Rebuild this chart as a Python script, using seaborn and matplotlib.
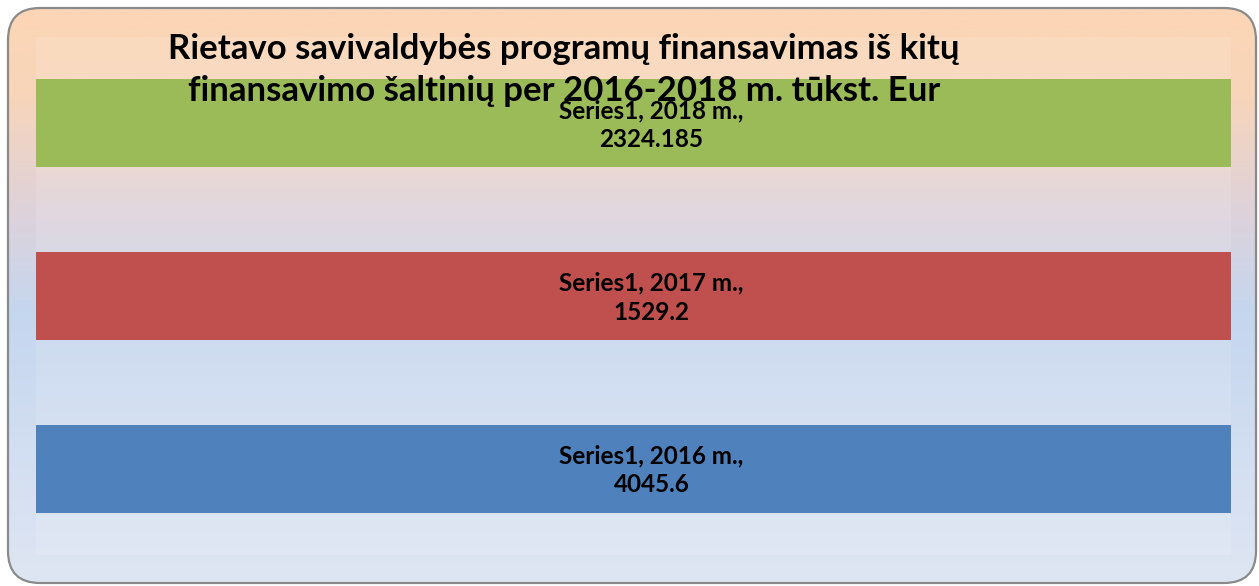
import numpy as np
import pandas as pd
import matplotlib
matplotlib.use("Agg")
import matplotlib.pyplot as plt
from matplotlib.patches import FancyBboxPatch
import seaborn as sns

# data
years = ["2018 m.", "2017 m.", "2016 m."]
values = [2324.185, 1529.2, 4045.6]
bar_colors = ["#9BBB59", "#C0504D", "#4F81BD"]
series_name = "Series1"
title = "Rietavo savivaldybės programų finansavimas iš kitų\nfinansavimo šaltinių per 2016-2018 m. tūkst. Eur"

df = pd.DataFrame({"year": years, "value": values})
# 100% stacked with one series -> every bar is the full share
df["share"] = df["value"] / df["value"] * 100

sns.set_theme(style="white")
plt.rcParams["font.family"] = ["Lato", "DejaVu Sans"]

W, H = 1259, 586
fig = plt.figure(figsize=(W / 100, H / 100), dpi=100)

# background: rounded box with gradient
bg = fig.add_axes([0, 0, 1, 1])
bg.set_xlim(0, W)
bg.set_ylim(H, 0)
bg.axis("off")
box = FancyBboxPatch((8, 8), 1248, 575, boxstyle="round,pad=0,rounding_size=32",
                     facecolor="none", edgecolor="#8a8a8a", linewidth=1.6, zorder=3)
bg.add_patch(box)
stops = [(0.0, (252, 213, 181)), (0.15, (248, 213, 186)), (0.35, (222, 210, 218)),
         (0.53, (197, 214, 239)), (1.0, (223, 230, 243))]
t = np.linspace(0, 1, 400)
grad = np.zeros((400, 1, 3))
for c in range(3):
    grad[:, 0, c] = np.interp(t, [s[0] for s in stops], [s[1][c] / 255 for s in stops])
im = bg.imshow(grad, extent=(8, 1256, 583, 8), aspect="auto", zorder=1)
im.set_clip_path(box)

# plot area
ax = fig.add_axes([36 / W, (H - 555) / H, (1231 - 36) / W, (555 - 37) / H])
ax.set_facecolor((1, 1, 1, 0.12))
sns.barplot(data=df, x="share", y="year", order=years, hue="year",
            palette=bar_colors, width=0.51, orient="h", legend=False, ax=ax,
            saturation=1, linewidth=0)
ax.set_xlim(0, 100)
ax.set_ylim(2.5, -0.5)
ax.set_xlabel("")
ax.set_ylabel("")
ax.set_xticks([])
ax.set_yticks([])
for s in ax.spines.values():
    s.set_visible(False)

# data labels in the middle of each bar
for i, (yr, v) in enumerate(zip(years, values)):
    ax.text(51.5, i + 0.01, f"{series_name}, {yr},\n{v}", ha="center", va="center",
            fontsize=17.5, fontweight="bold", color="black", linespacing=1.3)

fig.text(564 / W, 1 - 70 / H, title, ha="center", va="center", fontsize=25,
         fontweight="bold", color="black", linespacing=1.42)

fig.savefig("out.png", dpi=100)
